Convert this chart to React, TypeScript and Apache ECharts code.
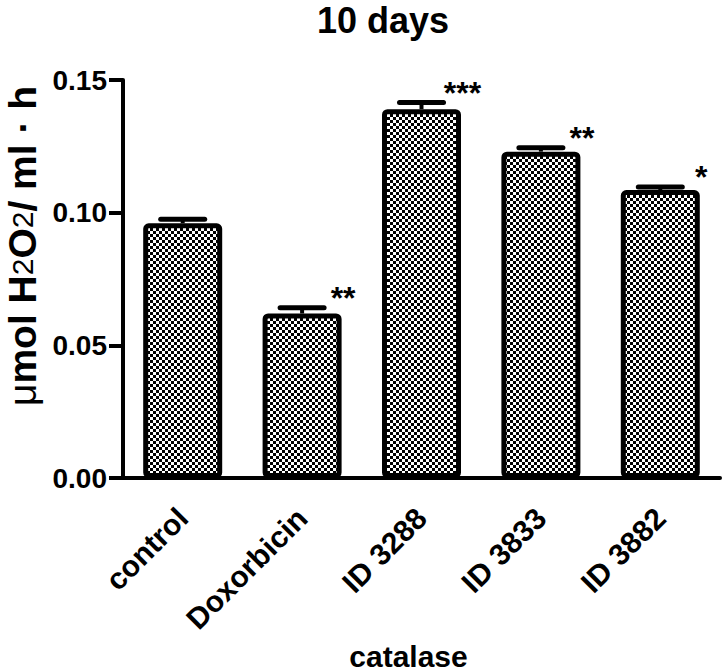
import React, { useEffect, useRef } from "react";
import * as echarts from "echarts";

const categories = ["control", "Doxorbicin", "ID 3288", "ID 3833", "ID 3882"];
const means = [0.096, 0.062, 0.139, 0.123, 0.1085];
const errors = [0.0015, 0.0022, 0.0025, 0.0015, 0.0012];
const stars = ["", "**", "***", "**", "*"];
const yTicks = [0, 0.05, 0.1, 0.15];

const FONT = "Liberation Sans, Arial, sans-serif";

function makePattern() {
  const c = document.createElement("canvas");
  c.width = 6;
  c.height = 6;
  const ctx = c.getContext("2d")!;
  ctx.fillStyle = "#ffffff";
  ctx.fillRect(0, 0, 6, 6);
  ctx.fillStyle = "#000000";
  ctx.fillRect(0, 0, 3, 3);
  ctx.fillRect(3, 3, 3, 3);
  return c;
}

export default function App() {
  const ref = useRef<HTMLDivElement>(null);
  useEffect(() => {
    if (!ref.current) return;
    document.body.style.margin = "0";
    const chart = echarts.init(ref.current, undefined, { renderer: "svg" });
    const pattern = makePattern();
    const option: any = {
      animation: false,
      backgroundColor: "#ffffff",
      title: {
        text: "10 days",
        left: 312,
        top: -3,
        textStyle: { fontFamily: FONT, fontWeight: "bold", fontSize: 36, color: "#000" },
      },
      grid: {
        left: 123,
        right: 6,
        top: 80,
        bottom: 193,
        containLabel: false,
        outerBoundsMode: "none",
      },
      xAxis: {
        type: "category",
        data: categories,
        name: "catalase",
        nameLocation: "middle",
        nameGap: 159,
        nameTextStyle: {
          fontFamily: FONT,
          fontWeight: "bold",
          fontSize: 30,
          color: "#000",
          padding: [0, 26, 0, 0],
        },
        axisLine: { lineStyle: { color: "#000", width: 4 } },
        axisTick: { alignWithLabel: true, length: 12, lineStyle: { color: "#000", width: 4 } },
        axisLabel: {
          rotate: 45,
          margin: 35,
          interval: 0,
          fontFamily: FONT,
          fontWeight: "bold",
          fontSize: 30,
          color: "#000",
        },
      },
      yAxis: {
        type: "value",
        min: 0,
        max: 0.15,
        interval: 0.05,
        name: "{mu|μ}mol H{s|2}O{s|2}/ ml · h",
        nameLocation: "middle",
        nameRotate: 90,
        nameGap: 81,
        nameTextStyle: {
          fontFamily: FONT,
          fontWeight: "bold",
          fontSize: 39,
          color: "#000",
          padding: [0, 0, 0, 66],
          rich: {
            mu: { fontFamily: FONT, fontWeight: "normal", fontSize: 39, color: "#000" },
            s: { fontFamily: FONT, fontWeight: "normal", fontSize: 30, color: "#000" },
          },
        },
        splitLine: { show: false },
        axisLine: { show: true, lineStyle: { color: "#000", width: 4 } },
        axisTick: { show: true, length: 14, lineStyle: { color: "#000", width: 4 } },
        axisLabel: {
          margin: 16,
          fontFamily: FONT,
          fontWeight: "bold",
          fontSize: 28,
          color: "#000",
          formatter: (v: number) => {
            const t = yTicks.find((x) => Math.abs(x - v) < 1e-9);
            return (t !== undefined ? t : v).toFixed(2);
          },
        },
      },
      series: [
        {
          type: "bar",
          data: means,
          barWidth: 79,
          z: 2,
          itemStyle: {
            color: { image: pattern, repeat: "repeat", imageWidth: 6, imageHeight: 6 },
            borderColor: "#000",
            borderWidth: 5,
            borderRadius: 3,
          },
        },
        {
          type: "custom",
          z: 3,
          data: means.map((m, i) => [i, m, errors[i]]),
          renderItem: (params: any, api: any) => {
            const i = api.value(0);
            const m = api.value(1);
            const e = api.value(2);
            const base = api.coord([i, m]);
            const top = api.coord([i, m + e]);
            const half = 22;
            const children: any[] = [
              {
                type: "line",
                shape: { x1: base[0], y1: base[1], x2: top[0], y2: top[1] },
                style: { stroke: "#000", lineWidth: 4 },
              },
              {
                type: "line",
                shape: { x1: top[0] - half, y1: top[1], x2: top[0] + half, y2: top[1] },
                style: { stroke: "#000", lineWidth: 5, lineCap: "round" },
              },
            ];
            const s = stars[params.dataIndex];
            if (s) {
              children.push({
                type: "text",
                x: top[0] + 41,
                y: top[1] - 10,
                style: {
                  text: s,
                  fontFamily: FONT,
                  fontWeight: "bold",
                  fontSize: 32,
                  fill: "#000",
                  align: "center",
                  verticalAlign: "middle",
                },
              });
            }
            return { type: "group", children };
          },
        },
      ],
    };
    chart.setOption(option);
    return () => chart.dispose();
  }, []);
  return <div ref={ref} style={{ width: 726, height: 671 }} />;
}
